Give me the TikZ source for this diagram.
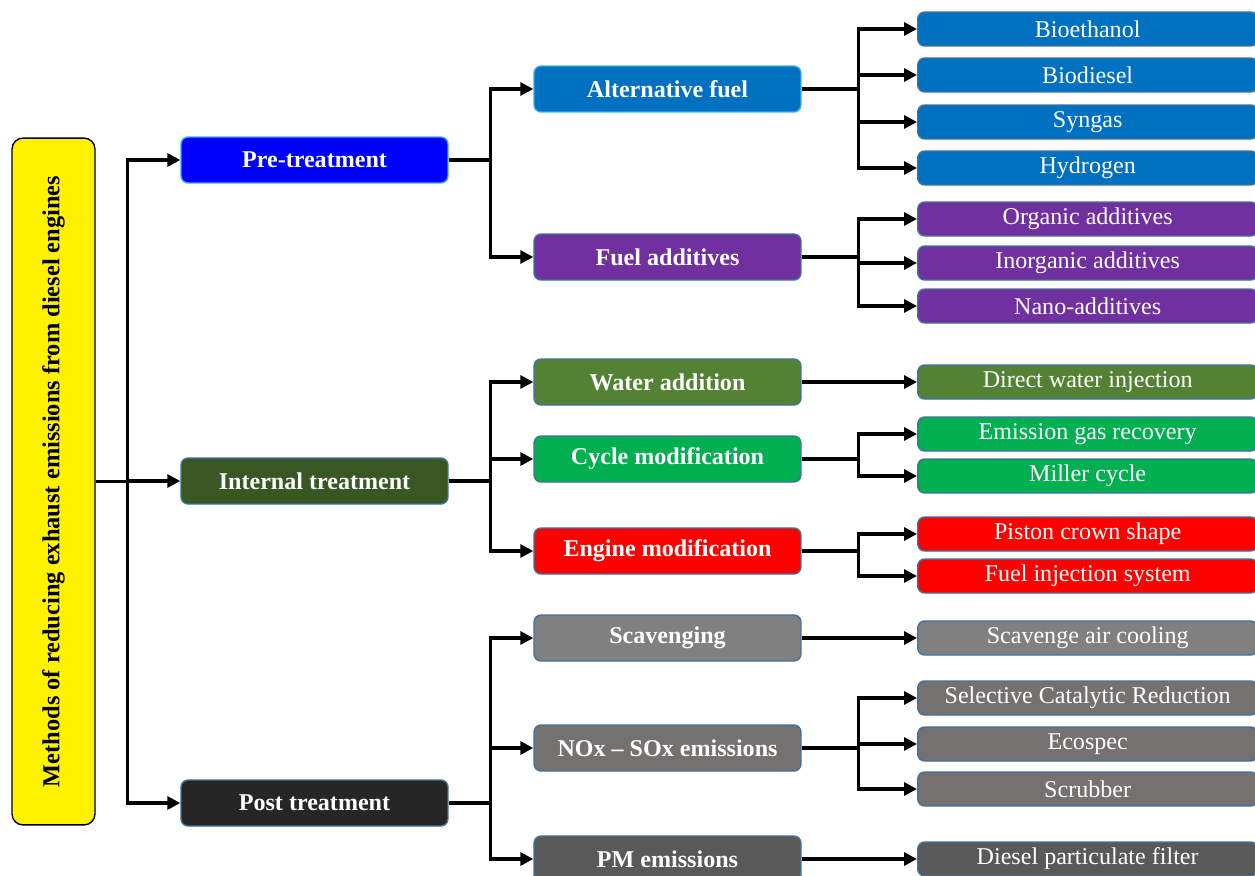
\documentclass[tikz,border=0pt]{standalone}
\usepackage{fontspec}
\setmainfont{Liberation Serif}
\usepackage{graphicx}
\usetikzlibrary{arrows.meta}
\definecolor{edgeblue}{RGB}{65,113,156}
\definecolor{lightedge}{RGB}{60,170,240}
\definecolor{preblue}{RGB}{0,0,255}
\definecolor{altblue}{RGB}{0,112,192}
\definecolor{addpurple}{RGB}{112,48,160}
\definecolor{intgreen}{RGB}{56,87,35}
\definecolor{watgreen}{RGB}{84,130,53}
\definecolor{cycgreen}{RGB}{0,176,80}
\definecolor{engred}{RGB}{255,0,0}
\definecolor{postgray}{RGB}{38,38,38}
\definecolor{scavgray}{RGB}{128,128,128}
\definecolor{noxgray}{RGB}{118,113,113}
\definecolor{pmgray}{RGB}{89,89,89}
\tikzset{
  box/.style={draw=edgeblue, line width=0.8pt, rounded corners=4pt, fill=#1,
              text=white, minimum width=5.34cm, minimum height=0.92cm,
              inner sep=0pt, font=\fontsize{13.7}{16}\selectfont\bfseries},
  leaf/.style={box=#1, anchor=west, minimum width=6.8cm, minimum height=0.68cm,
               font=\fontsize{13.7}{16}\selectfont},
  ar/.style={-{Triangle[length=2.6mm,width=2.6mm]}, line width=1.8pt}
}
\begin{document}
\begin{tikzpicture}[x=0.02cm, y=-0.02cm]
  \useasboundingbox (0,0) rectangle (1255,876);
  \clip (0,0) rectangle (1255,876);
  % root
  \node[draw=black, line width=0.8pt, fill=yellow, rounded corners=0.22cm,
        minimum width=1.66cm, minimum height=13.74cm, inner sep=0pt,
        font=\fontsize{13.9}{16}\selectfont\bfseries] (root) at (53.5,481.5)
        {\rotatebox{90}{Methods of reducing exhaust emissions from diesel engines}};
  % first level
  \node[box=preblue, draw=lightedge] (pre) at (314.5,160) {Pre-treatment};
  \node[box=intgreen] (internal) at (314.5,481) {Internal treatment};
  \node[box=postgray] (post) at (314.5,803) {Post treatment};
  % second level
  \node[box=altblue, draw=lightedge] (altfuel) at (667.5,89) {Alternative fuel};
  \node[box=addpurple] (additives) at (667.5,257) {Fuel additives};
  \node[box=watgreen] (water) at (667.5,382) {Water addition};
  \node[box=cycgreen] (cycle) at (667.5,459) {Cycle modification};
  \node[box=engred] (engine) at (667.5,551) {Engine modification};
  \node[box=scavgray] (scav) at (667.5,638) {Scavenging};
  \node[box=noxgray] (noxsox) at (667.5,748) {NOx -- SOx emissions};
  \node[box=pmgray] (pm) at (667.5,859) {PM emissions};
  % leaves
  \node[leaf=altblue] (bioeth) at (917,29) {Bioethanol};
  \node[leaf=altblue] (biodsl) at (917,75) {Biodiesel};
  \node[leaf=altblue] (syngas) at (917,122) {Syngas};
  \node[leaf=altblue] (hydrogen) at (917,168) {Hydrogen};
  \node[leaf=addpurple] (organic) at (917,219) {Organic additives};
  \node[leaf=addpurple] (inorganic) at (917,263) {Inorganic additives};
  \node[leaf=addpurple] (nano) at (917,306) {Nano-additives};
  \node[leaf=watgreen] (dwi) at (917,382) {Direct water injection};
  \node[leaf=cycgreen] (egr) at (917,434) {Emission gas recovery};
  \node[leaf=cycgreen] (miller) at (917,476) {Miller cycle};
  \node[leaf=engred] (piston) at (917,534) {Piston crown shape};
  \node[leaf=engred] (fis) at (917,576) {Fuel injection system};
  \node[leaf=scavgray] (sac) at (917,638) {Scavenge air cooling};
  \node[leaf=noxgray] (scr) at (917,698) {Selective Catalytic Reduction};
  \node[leaf=noxgray] (ecospec) at (917,744) {Ecospec};
  \node[leaf=noxgray] (scrubber) at (917,789) {Scrubber};
  \node[leaf=pmgray] (dpf) at (917,859) {Diesel particulate filter};
  % connectors
  \foreach \n in {pre,internal,post} \draw[ar] (root.east) -- ++(32,0) |- (\n.west);
  \foreach \n in {altfuel,additives} \draw[ar] (pre.east) -- ++(42,0) |- (\n.west);
  \foreach \n in {water,cycle,engine} \draw[ar] (internal.east) -- ++(42,0) |- (\n.west);
  \foreach \n in {scav,noxsox,pm} \draw[ar] (post.east) -- ++(42,0) |- (\n.west);
  \foreach \n in {bioeth,biodsl,syngas,hydrogen} \draw[ar] (altfuel.east) -- ++(57,0) |- (\n.west);
  \foreach \n in {organic,inorganic,nano} \draw[ar] (additives.east) -- ++(57,0) |- (\n.west);
  \draw[ar] (water.east) -- (dwi.west);
  \foreach \n in {egr,miller} \draw[ar] (cycle.east) -- ++(57,0) |- (\n.west);
  \foreach \n in {piston,fis} \draw[ar] (engine.east) -- ++(57,0) |- (\n.west);
  \draw[ar] (scav.east) -- (sac.west);
  \foreach \n in {scr,ecospec,scrubber} \draw[ar] (noxsox.east) -- ++(57,0) |- (\n.west);
  \draw[ar] (pm.east) -- (dpf.west);
\end{tikzpicture}
\end{document}
